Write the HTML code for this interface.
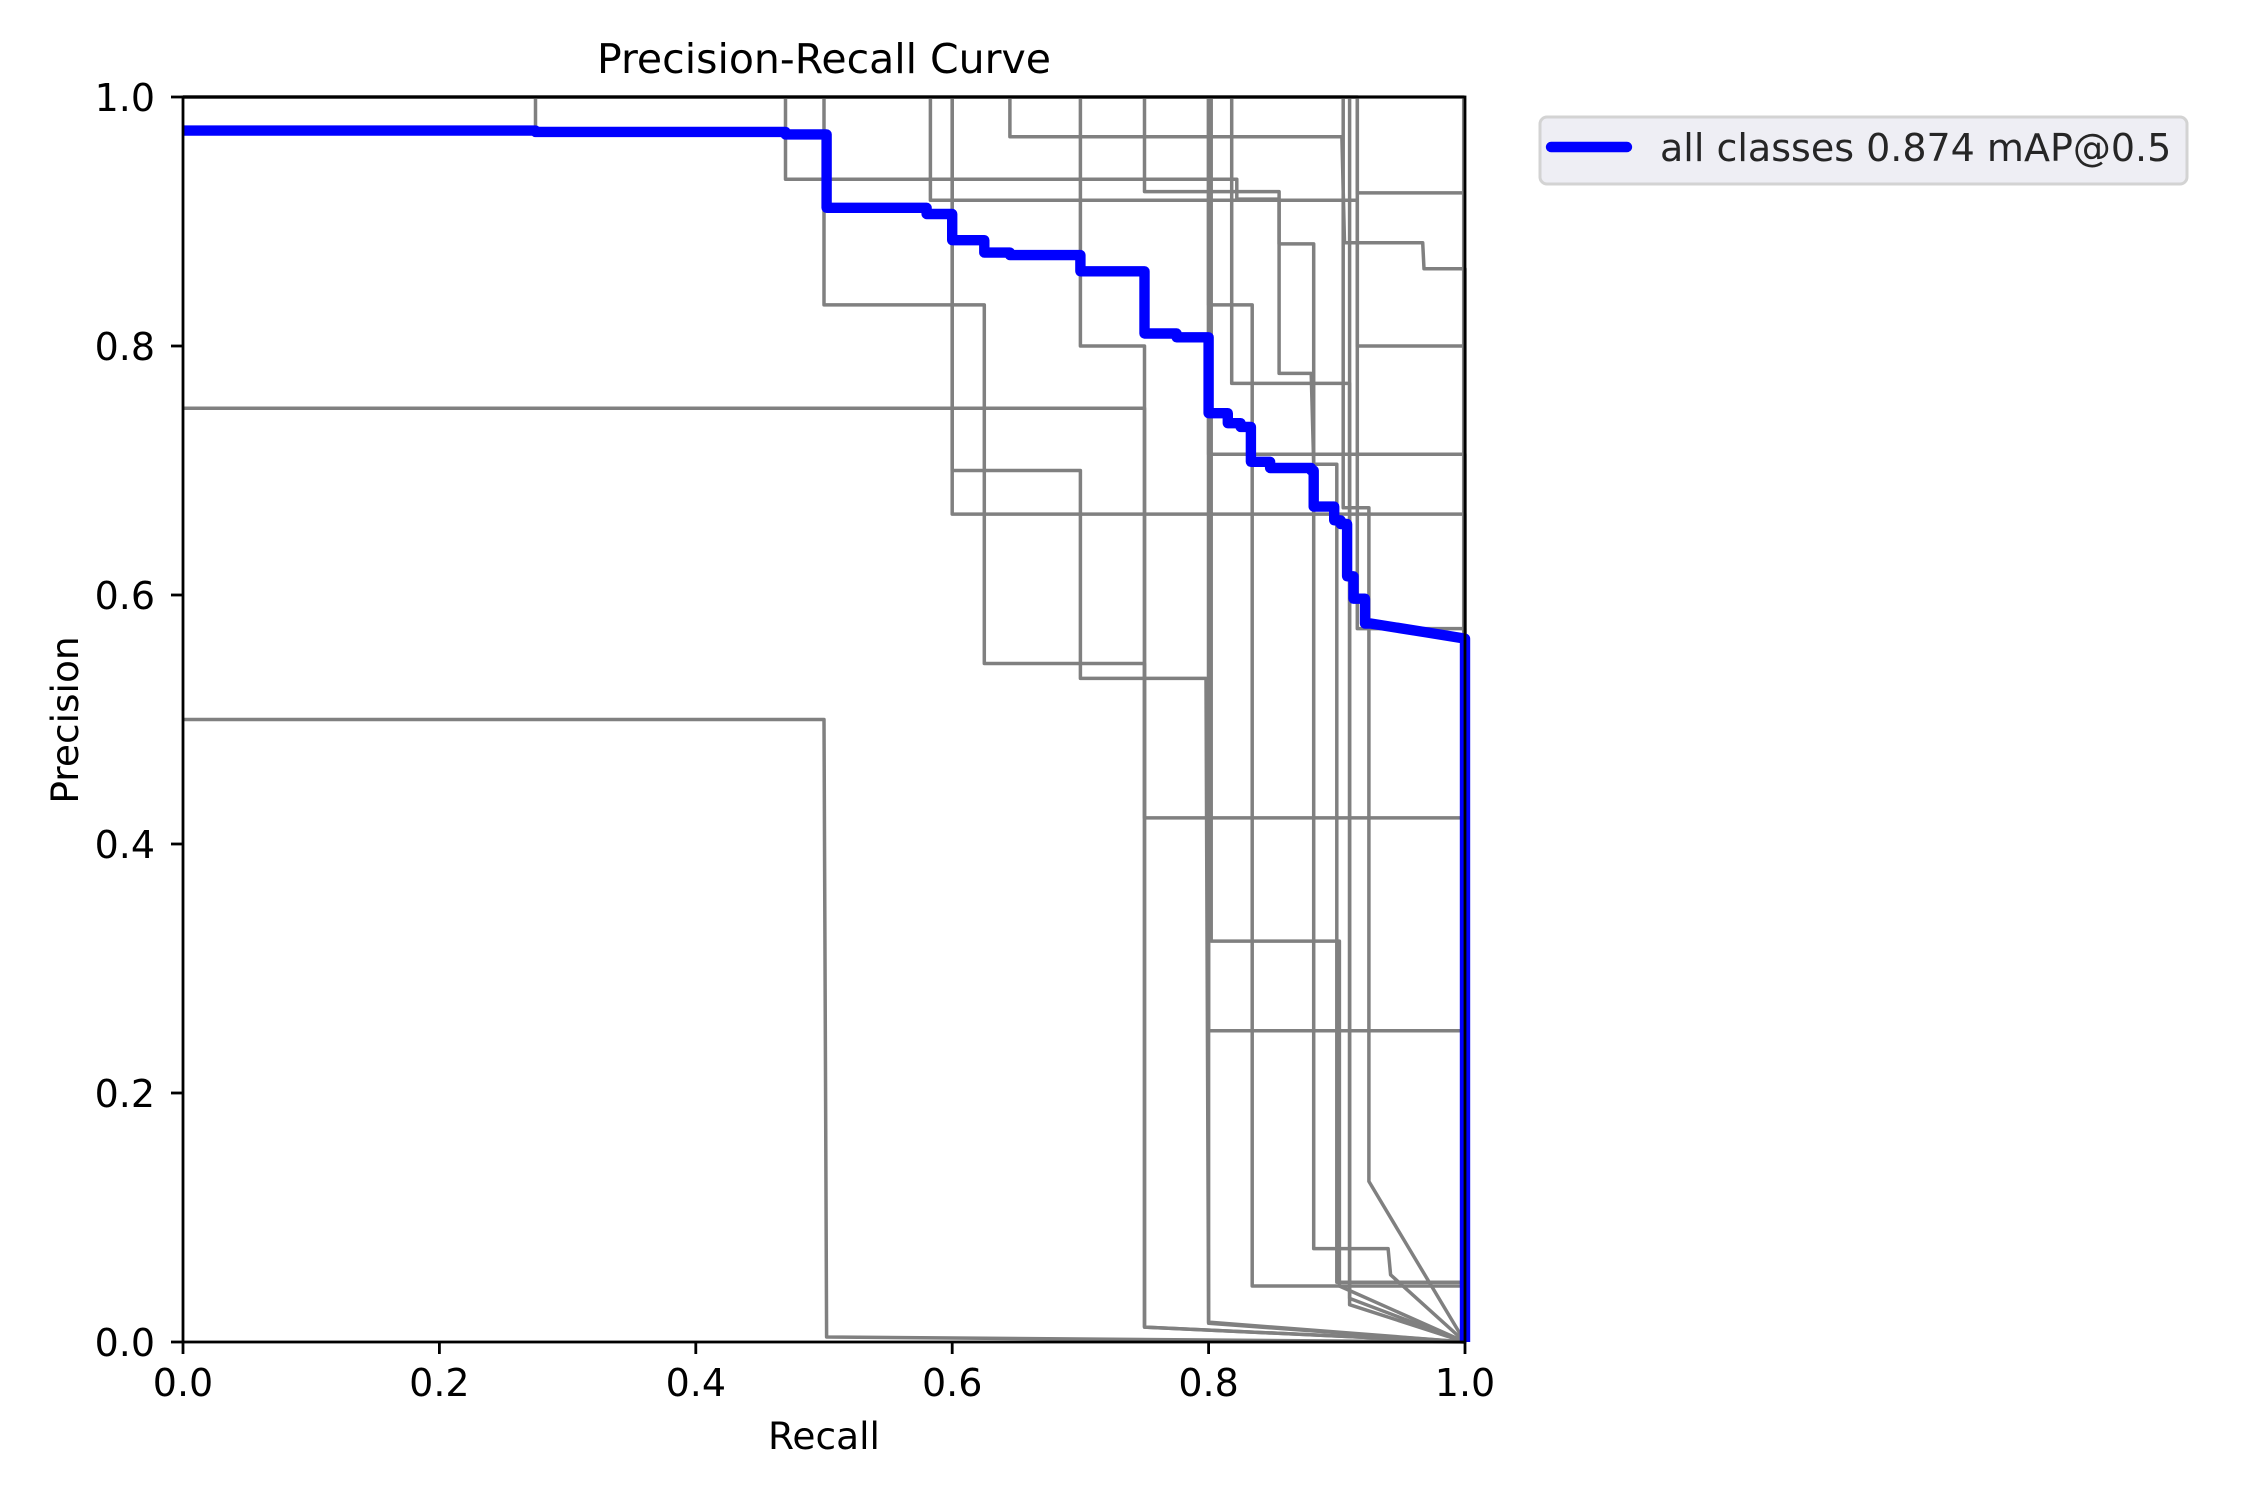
<!DOCTYPE html>
<html><head><meta charset="utf-8"><style>
html,body{margin:0;padding:0;background:#fff;}
svg text{font-family:"DejaVu Sans","Liberation Sans",sans-serif;fill:#000;}
</style></head><body>
<svg id="chart" width="2250" height="1500" viewBox="0 0 2250 1500" xmlns="http://www.w3.org/2000/svg">
<rect width="2250" height="1500" fill="#fff"/>
<g id="classes"></g>
<g id="allg"></g>
<g id="axes"></g>
<text x="824" y="73" font-size="41" text-anchor="middle">Precision-Recall Curve</text>
<text x="824" y="1449" font-size="37.5" text-anchor="middle">Recall</text>
<text x="0" y="0" font-size="37.5" text-anchor="middle" transform="translate(78,720) rotate(-90)">Precision</text>
<g>
<rect x="1540" y="117" width="647" height="67" rx="7" fill="#eeeef4" stroke="#d3d3d3" stroke-width="3"/>
<line x1="1551" y1="147" x2="1627" y2="147" stroke="#0000ff" stroke-width="10.4" stroke-linecap="round"/>
<text x="1660" y="161" font-size="38" style="fill:#262626">all classes 0.874 mAP@0.5</text>
</g>
</svg>
<script>
const xTicks = [0, 0.2, 0.4, 0.6, 0.8, 1.0];
const yTicks = [0, 0.2, 0.4, 0.6, 0.8, 1.0];
const xTickLabels = ["0.0","0.2","0.4","0.6","0.8","1.0"];
const yTickLabels = ["0.0","0.2","0.4","0.6","0.8","1.0"];
const allRecall = [0,0.275,0.275,0.47,0.47,0.502,0.502,0.58,0.58,0.60,0.60,0.625,0.625,0.645,0.645,0.70,0.70,0.75,0.75,0.775,0.775,0.80,0.80,0.815,0.815,0.825,0.825,0.833,0.833,0.848,0.848,0.88,0.88,0.882,0.882,0.898,0.898,0.903,0.903,0.908,0.908,0.913,0.913,0.922,0.922,0.927,0.97,1.0,1.0];
const allPrecision = [0.973,0.973,0.972,0.972,0.970,0.970,0.911,0.911,0.906,0.906,0.885,0.885,0.875,0.875,0.873,0.873,0.860,0.860,0.810,0.810,0.807,0.807,0.746,0.746,0.738,0.738,0.735,0.735,0.707,0.707,0.702,0.702,0.700,0.700,0.671,0.671,0.660,0.660,0.657,0.657,0.615,0.615,0.597,0.597,0.577,0.577,0.570,0.565,0];
const classCurves = [
 [[0,1],[0.47,1],[0.47,0.934],[0.822,0.934],[0.822,0.918],[0.855,0.918],[0.855,0.882],[0.882,0.882],[0.882,0.075],[0.94,0.075],[0.942,0.054],[1,0]],
 [[0,1],[0.583,1],[0.583,0.917],[0.916,0.917],[0.916,0.573],[1,0.573],[1,0]],
 [[0,1],[0.6,1],[0.6,0.70],[0.70,0.70],[0.70,0.533],[0.798,0.533],[0.80,0.015],[1,0]],
 [[0,1],[0.645,1],[0.645,0.968],[0.904,0.968],[0.906,0.883],[0.967,0.883],[0.968,0.862],[1,0.862],[1,0]],
 [[0,1],[0.5,1],[0.5,0.833],[0.625,0.833],[0.625,0.545],[0.75,0.545],[0.75,0.421],[1,0.421],[1,0]],
 [[0,1],[0.6,1],[0.6,0.665],[1,0.665],[1,0]],
 [[0,1],[0.7,1],[0.7,0.80],[0.75,0.80],[0.75,0.012],[1,0]],
 [[0,0.75],[0.75,0.75],[0.75,0.012],[1,0]],
 [[0,1],[0.75,1],[0.75,0.924],[0.855,0.924],[0.855,0.778],[0.88,0.778],[0.882,0.705],[0.90,0.705],[0.90,0.048],[1,0.048],[1,0]],
 [[0,1],[0.8,1],[0.8,0.713],[1,0.713],[1,0]],
 [[0,1],[0.818,1],[0.818,0.77],[0.91,0.77],[0.91,0.035],[1,0]],
 [[0,1],[0.802,1],[0.802,0.322],[0.902,0.322],[0.902,0.045],[1,0]],
 [[0,1],[0.8,1],[0.8,0.25],[1,0.25],[1,0]],
 [[0,1],[0.8,1],[0.8,0.016],[1,0]],
 [[0,1],[0.80,1],[0.80,0.833],[0.834,0.833],[0.834,0.045],[1,0.045]],
 [[0,1],[0.91,1],[0.91,0.03],[1,0]],
 [[0,1],[0.916,1],[0.916,0.80],[1,0.80]],
 [[0,1],[0.905,1],[0.905,0.67],[0.925,0.67],[0.925,0.129],[1,0]],
 [[0,1],[0.916,1],[0.916,0.923],[1,0.923]],
 [[0,0.5],[0.5,0.5],[0.502,0.004],[1,0]],
 [[0,1],[0.275,1],[0.275,0.972]],
 [[0,1],[0.999,1],[0.999,0]]
];
const NS = "http://www.w3.org/2000/svg";
const X0 = 183, X1 = 1465, Y0 = 1342, Y1 = 97;
function sx(v){ return X0 + v*(X1-X0); }
function sy(v){ return Y0 - v*(Y0-Y1); }
function mk(tag, attrs){ const e = document.createElementNS(NS, tag); for (const k in attrs) e.setAttribute(k, attrs[k]); return e; }
const gC = document.getElementById('classes');
classCurves.forEach((c, i) => {
  const p = mk('polyline', {points: c.map(pt => sx(pt[0]).toFixed(1)+','+sy(pt[1]).toFixed(1)).join(' '), fill:'none', stroke:'#808080', 'stroke-width':'3.5', 'stroke-linejoin':'round'});
  
  
  gC.appendChild(p);
});
const gA = document.getElementById('allg');
const pa = mk('polyline', {points: allRecall.map((r, i) => sx(r).toFixed(1)+','+sy(allPrecision[i]).toFixed(1)).join(' '), fill:'none', stroke:'#0000ff', 'stroke-width':'10.4', 'stroke-linejoin':'round'});


gA.appendChild(pa);
const gX = document.getElementById('axes');
const fr = mk('rect', {x:X0, y:Y1, width:X1-X0, height:Y0-Y1, fill:'none', stroke:'#000', 'stroke-width':'2.8'});


gX.appendChild(fr);
xTicks.forEach((t, i) => {
  const l = mk('line', {x1:sx(t), x2:sx(t), y1:Y0, y2:Y0+12, stroke:'#000', 'stroke-width':'2.8'});
  
  
  gX.appendChild(l);
  const tx = mk('text', {x:sx(t), y:1396, 'font-size':'38', 'text-anchor':'middle'});
  tx.textContent = xTickLabels[i];
  
  
  gX.appendChild(tx);
});
yTicks.forEach((t, i) => {
  const l = mk('line', {x1:X0-12, x2:X0, y1:sy(t), y2:sy(t), stroke:'#000', 'stroke-width':'2.8'});
  
  
  gX.appendChild(l);
  const tx = mk('text', {x:155, y:sy(t)+14, 'font-size':'38', 'text-anchor':'end'});
  tx.textContent = yTickLabels[i];
  
  
  gX.appendChild(tx);
});
</script>
</body></html>
